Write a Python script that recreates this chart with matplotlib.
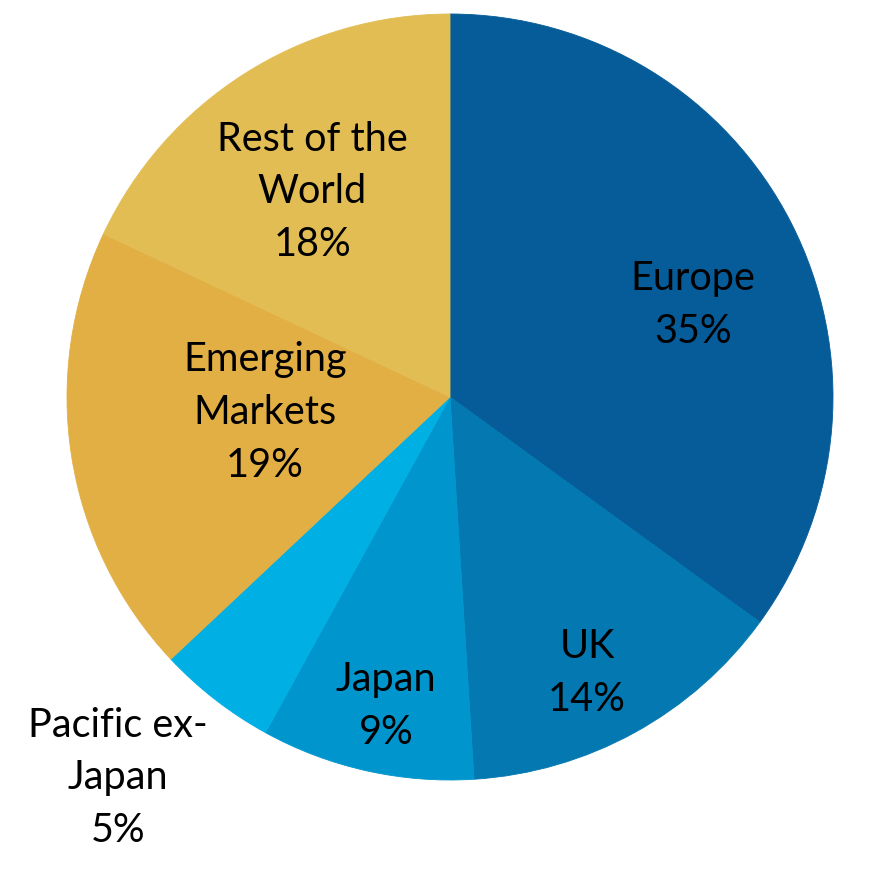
import math
import matplotlib
matplotlib.use("Agg")
import matplotlib.pyplot as plt

categories = ["Europe", "UK", "Japan", "Pacific ex-\nJapan", "Emerging\nMarkets", "Rest of the\nWorld"]
values = [35, 14, 9, 5, 19, 18]
colors = ["#055C98", "#0378B1", "#0096CD", "#00AFE4", "#E2AF45", "#E2BD53"]

# label layout: radial distance (fraction of radius) and angle offset from wedge middle
label_r = [0.678, 0.805, 0.824, 1.32, 0.485, 0.645]
label_dtheta = [-6.3, -2.4, 0.9, -3.3, -4.1, 1.5]

W = H = 875
cx, cy, R = 450, 397, 383

fig = plt.figure(figsize=(8.75, 8.75), dpi=100)
ax = fig.add_axes([0, 0, 1, 1])
wedges, _ = ax.pie(values, colors=colors, startangle=90, counterclock=False,
                   radius=1.0, wedgeprops=dict(linewidth=0.6))
for w in wedges:
    w.set_edgecolor(w.get_facecolor())
ax.set_xlim(-cx / R, (W - cx) / R)
ax.set_ylim((cy - H) / R, cy / R)
ax.set_aspect("equal")
ax.axis("off")

for w, cat, v, r, dt in zip(wedges, categories, values, label_r, label_dtheta):
    mid = math.radians((w.theta1 + w.theta2) / 2 + dt)
    ax.text(r * math.cos(mid), r * math.sin(mid), f"{cat}\n{v}%",
            ha="center", va="center", fontsize=28.5, family=["Lato", "DejaVu Sans"],
            color="black", linespacing=1.53)

fig.savefig("out.png", dpi=100)
